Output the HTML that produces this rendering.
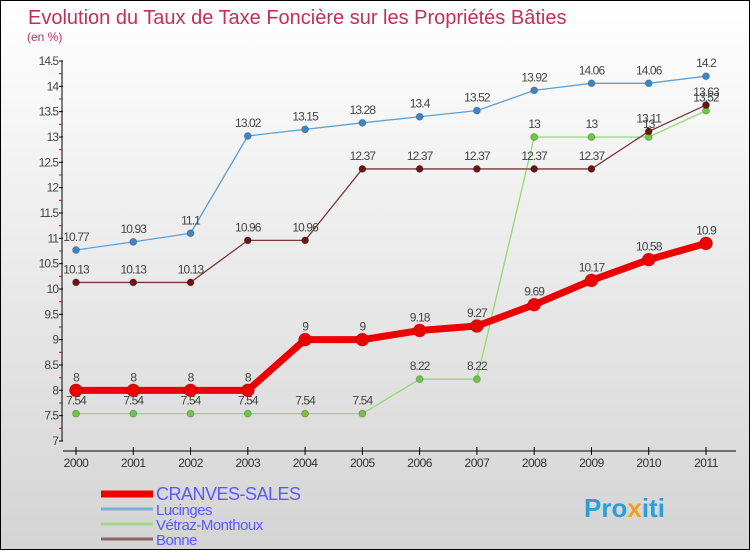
<!DOCTYPE html>
<html><head><meta charset="utf-8"><style>
html,body{margin:0;padding:0}
body{width:750px;height:550px;overflow:hidden;font-family:"Liberation Sans",sans-serif}
#wrap{position:relative;width:748px;height:548px;border:1px solid #000;background:linear-gradient(#ffffff,#d4d4d4)}
svg{position:absolute;left:0;top:0}
</style></head><body>
<div id="wrap">
<svg id="chart" width="750" height="550">
<text x="27" y="23" font-size="20" fill="#c0305e">Evolution du Taux de Taxe Foncière sur les Propriétés Bâties</text>
<text x="26" y="40" font-size="12" fill="#c0305e">(en %)</text>
</svg>
</div>
<script>
const years=["2000","2001","2002","2003","2004","2005","2006","2007","2008","2009","2010","2011"];
const cranves=[8,8,8,8,9,9,9.18,9.27,9.69,10.17,10.58,10.9];
const lucinges=[10.77,10.93,11.1,13.02,13.15,13.28,13.4,13.52,13.92,14.06,14.06,14.2];
const vetraz=[7.54,7.54,7.54,7.54,7.54,7.54,8.22,8.22,13,13,13,13.52];
const bonne=[10.13,10.13,10.13,10.96,10.96,12.37,12.37,12.37,12.37,12.37,13.11,13.63];
const yTicks=[7,7.5,8,8.5,9,9.5,10,10.5,11,11.5,12,12.5,13,13.5,14,14.5];
const NS="http://www.w3.org/2000/svg";
const svg=document.getElementById('chart');
const x=i=>75+i*(630/11);
const y=v=>440-(v-7)*(380/7.5);
function mk(t,a){const e=document.createElementNS(NS,t);for(const k in a)e.setAttribute(k,a[k]);svg.appendChild(e);return e;}
let e=mk('line',{x1:61,y1:60,x2:61,y2:440,stroke:'#000','stroke-width':1});


e=mk('line',{x1:62,y1:450,x2:735,y2:450,stroke:'#000','stroke-width':1});


yTicks.forEach((v,i)=>{
 const t=mk('line',{x1:58,y1:y(v),x2:62,y2:y(v),stroke:'#000'});
 
 
 if(i<yTicks.length-1){const m=mk('line',{x1:58,y1:y(v+0.25),x2:61,y2:y(v+0.25),stroke:'#e00000'});
 
 }
 const l=mk('text',{x:57,y:y(v)+4,'font-size':12,fill:'#444','text-anchor':'end','letter-spacing':'-1'});
 l.textContent=String(v);
 
 
});
years.forEach((yr,i)=>{
 const t=mk('line',{x1:x(i),y1:446,x2:x(i),y2:454,stroke:'#000'});
 
 
 const l=mk('text',{x:x(i),y:466,'font-size':12,fill:'#333','text-anchor':'middle','letter-spacing':'-0.5'});
 l.textContent=yr;
 
 
});
function series(vals,color,w,r,dot,name){
 const p=mk('polyline',{points:vals.map((v,i)=>x(i)+','+y(v)).join(' '),fill:'none',stroke:color,'stroke-width':w,'stroke-linejoin':'round'});
 
 
 vals.forEach((v,i)=>{
  const c=mk('circle',{cx:x(i),cy:y(v),r:r,fill:dot,stroke:'rgba(0,0,0,0.2)'});
  
  
  const t=mk('text',{x:x(i),y:y(v)-9,'font-size':12,fill:'#444','text-anchor':'middle','letter-spacing':'-0.9'});
  t.textContent=String(v);
  
  
 });
}
series(lucinges,'#5fa0d0',1.3,3.5,'#3a86c8','lucinges');
series(vetraz,'#90dd70',1.3,3.5,'#6cc83c','vetraz-monthoux');
series(bonne,'#7a3838',1.3,3.5,'#6a1414','bonne');
series(cranves,'#ee0000',7,6.5,'#ee0000','cranves-sales');
const leg=[["CRANVES-SALES","#ee0000",7,18],["Lucinges","#80aed0",3,15],["Vétraz-Monthoux","#a0d888",3,15],["Bonne","#8e6464",3,15]];
leg.forEach((L,i)=>{
 const yy=493+i*15;
 const s=mk('line',{x1:100,y1:yy,x2:152,y2:yy,stroke:L[1],'stroke-width':L[2]});
 
 
 const t=mk('text',{x:155,y:yy+6,'font-size':L[3],fill:'#5a5aff','letter-spacing':'-0.5'});
 t.textContent=L[0];
 
 
});
const logo=mk('text',{x:583,y:516,'font-size':26,'font-weight':'bold',fill:'#2a9fd8'});
logo.innerHTML='Pro<tspan fill="#f0a020">x</tspan>iti';


</script>
</body></html>
